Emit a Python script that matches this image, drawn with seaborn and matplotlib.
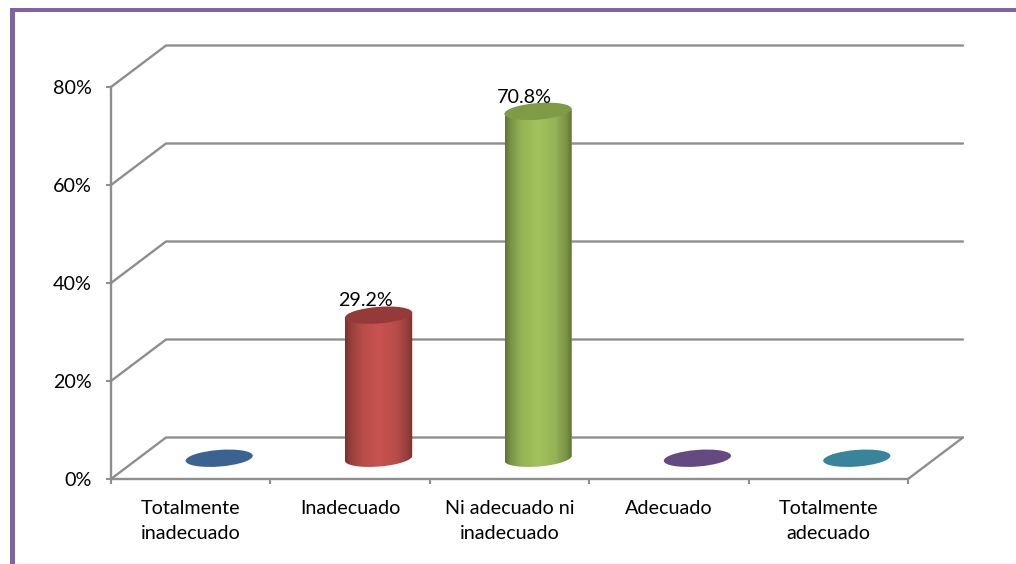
import numpy as np
import pandas as pd
import seaborn as sns
import matplotlib
matplotlib.use("Agg")
import matplotlib.pyplot as plt
from matplotlib.colors import to_rgb
from matplotlib.patches import Ellipse, PathPatch, Rectangle
from matplotlib.path import Path
from matplotlib.transforms import Affine2D, IdentityTransform

categories = ["Totalmente\ninadecuado", "Inadecuado", "Ni adecuado ni\ninadecuado",
              "Adecuado", "Totalmente\nadecuado"]
values = [0.0, 29.2, 70.8, 0.0, 0.0]
body_colors = ["#4F81BD", "#C0504D", "#9BBB59", "#8064A2", "#4BACC6"]
cap_colors = ["#3A6392", "#953A38", "#7F9B45", "#644A80", "#38859B"]
y_ticks = [0, 20, 40, 60, 80]

GRID = "#8E8E8E"
PURPLE = "#8064A2"
DPI = 100
W, H = 1016, 564
FS = 14.2

sns.set_theme(style="white")
plt.rcParams["font.family"] = ["Lato", "DejaVu Sans"]

fig = plt.figure(figsize=(W / DPI, H / DPI), dpi=DPI, facecolor="white")
ax = fig.add_axes([111 / W, (H - 479) / H, 797 / W, 392 / H])
ax.patch.set_alpha(0)

df = pd.DataFrame({"cat": categories, "val": values})
sns.barplot(data=df, x="cat", y="val", hue="cat", palette=body_colors, saturation=1,
            legend=False, width=67 / 159.4, linewidth=0, ax=ax, zorder=3)

ax.set_xlim(-0.5, 4.5)
ax.set_ylim(0, 80)
ax.set_xlabel("")
ax.set_ylabel("")

# 3-D depth of the chart box, in data units
dx, dy = 55 / 159.4, 41.5 / 4.9
depth = Affine2D().translate(dx / 2 + 1 / 159.4, dy / 2) + ax.transData

# grid and walls
for t in y_ticks:
    ax.plot([-0.5, -0.5 + dx, 4.5 + dx], [t, t + dy, t + dy], color=GRID, lw=1.7,
            clip_on=False, zorder=1, solid_joinstyle="miter")
ax.plot([4.5, 4.5 + dx], [0, dy], color=GRID, lw=1.7, clip_on=False, zorder=1)

# cylinders
RX, RY, TILT = 33.7, 8.3, 4.5
shade_x = [0, 0.08, 0.25, 0.5, 0.75, 0.92, 1]
shade_k = [0.62, 0.78, 0.96, 1.04, 0.96, 0.78, 0.62]


def disc_transform(i, v):
    cx, cy = depth.transform((i, v))
    return Affine2D().scale(RX, RY).rotate_deg(TILT).translate(cx, cy)


def disc(i, v, color, z):
    e = Ellipse((0, 0), 2, 2, transform=disc_transform(i, v), facecolor=color,
                edgecolor="none", zorder=z, clip_on=False)
    ax.add_patch(e)
    return e


def body_outline(i, v):
    """Side silhouette of a cylinder: the cap's diameter down to the base's lower arc."""
    ang = np.linspace(np.pi, 2 * np.pi, 60)
    unit = np.column_stack([np.cos(ang), np.sin(ang)])
    arc = disc_transform(i, 0).transform(unit)
    top = disc_transform(i, v).transform([[1, 0], [-1, 0]])
    verts = np.vstack([arc, top, arc[:1]])
    return PathPatch(Path(verts), transform=IdentityTransform(), facecolor="none",
                     edgecolor="none")


half = 67 / 159.4 / 2
u = np.linspace(0, 1, 134)
for i, (container, v) in enumerate(zip(ax.containers, values)):
    rect = container[0]
    rect.set_transform(depth)
    if v <= 0:
        rect.set_visible(False)
        disc(i, v, cap_colors[i], 4)
        continue
    rgb = np.array(to_rgb(body_colors[i]))
    k = np.interp(u, shade_x, shade_k)
    grad = np.clip(k[None, :, None] * rgb[None, None, :], 0, 1)
    outline = body_outline(i, v)
    rect.set_clip_path(outline)
    im = ax.imshow(grad, extent=(i - half, i + half, -4, v + 1), aspect="auto",
                   transform=depth, zorder=3.5, interpolation="bilinear")
    im.set_clip_path(outline)
    disc(i, v, cap_colors[i], 4)
    ax.annotate(f"{v:.1f}%", xy=(i, v), xycoords=depth, xytext=(-9.5, 10.3),
                textcoords="offset points", ha="center", va="center",
                fontsize=FS, color="black", zorder=5)

ax.set_xlim(-0.5, 4.5)
ax.set_ylim(0, 80)

# axes
for s in ("top", "right"):
    ax.spines[s].set_visible(False)
for s in ("left", "bottom"):
    ax.spines[s].set_color(GRID)
    ax.spines[s].set_linewidth(1.7)
    ax.spines[s].set_zorder(2)

ax.set_yticks(y_ticks)
ax.set_yticklabels([f"{t}%" for t in y_ticks])
ax.set_xticks(range(len(categories)))
ax.set_xticklabels(categories, linespacing=1.55)
ax.set_xticks(np.arange(-0.5, 5), minor=True)
ax.tick_params(axis="x", which="major", length=0, pad=15, labelsize=FS, labelcolor="black")
ax.tick_params(axis="x", which="minor", length=3.6, width=1.5, color=GRID, bottom=True)
ax.tick_params(axis="y", which="major", length=3.6, width=1.5, color=GRID, pad=10.5,
               labelsize=FS, labelcolor="black", left=True)

# page frame
fig.add_artist(Rectangle((10 / W, 0), 5 / W, (H - 8) / H, transform=fig.transFigure,
                         facecolor=PURPLE, edgecolor="none"))
fig.add_artist(Rectangle((10 / W, (H - 11.5) / H), (W - 10) / W, 3.5 / H,
                         transform=fig.transFigure, facecolor=PURPLE, edgecolor="none"))
fig.add_artist(Rectangle((15 / W, 0), (W - 15) / W, 1.5 / H, transform=fig.transFigure,
                         facecolor="#F3F3F3", edgecolor="none"))

fig.savefig("out.png", dpi=DPI, facecolor="white")
